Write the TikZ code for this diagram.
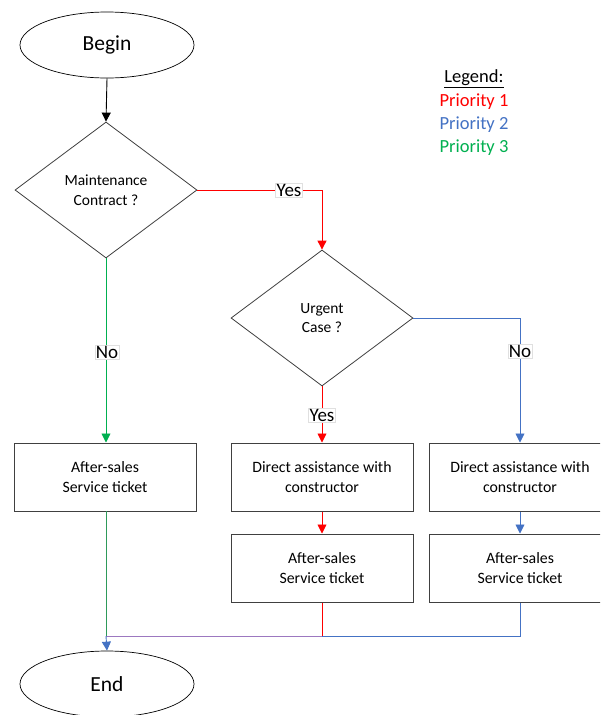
\documentclass[tikz,border=0pt]{standalone}
\usepackage{fontspec}
\setmainfont{Carlito}
\usetikzlibrary{shapes.geometric,arrows.meta}
\definecolor{pred}{HTML}{FF0000}
\definecolor{pblue}{HTML}{4472C4}
\definecolor{pgreen}{HTML}{00B050}
\definecolor{lgreen}{HTML}{2E9A5A}
\definecolor{mixp}{HTML}{9C78C0}
\definecolor{edge}{HTML}{404040}
\tikzset{
  term/.style={ellipse,draw=black,line width=0.7pt,minimum width=174pt,minimum height=66pt,inner sep=0pt,font=\fontsize{21.5}{24}\selectfont},
  decision/.style={diamond,draw=edge,line width=0.8pt,minimum width=182pt,minimum height=136pt,inner sep=0pt,aspect=1.34,align=center,font=\fontsize{15.5}{19.5}\selectfont},
  proc/.style={rectangle,draw=edge,line width=1pt,minimum width=182pt,minimum height=68pt,inner sep=0pt,align=center,font=\fontsize{15.8}{20}\selectfont},
  lab/.style={fill=white,draw=black!12,line width=0.4pt,inner sep=1pt,font=\fontsize{19}{21}\selectfont},
  conn/.style={line width=0.9pt,-{Triangle[width=9pt,length=9pt]}},
  segline/.style={line width=0.9pt},
  legend/.style={font=\fontsize{18.5}{20}\selectfont,inner sep=0pt}
}
\begin{document}
\begin{tikzpicture}[x=1pt,y=-1pt]
\useasboundingbox (0,0) rectangle (600,715);
\clip (0,0) rectangle (600,715);
\fill[white] (0,0) rectangle (600,715);

\node[term] (begin) at (107,45) {Begin};
\node[decision] (d1) at (106,190) {Maintenance\\Contract ?};
\node[decision] (d2) at (322,318) {Urgent\\Case ?};
\node[proc] (a1) at (105,477) {After-sales\\Service ticket};
\node[proc] (b1) at (322,477) {Direct assistance with\\constructor};
\node[proc] (c1) at (520,477) {Direct assistance with\\constructor};
\node[proc] (b2) at (322,568) {After-sales\\Service ticket};
\node[proc] (c2) at (520,568) {After-sales\\Service ticket};
\node[term] (end) at (107,684) {End};

\node[legend] (lg) at (474,79) {\underline{Legend:}};
\node[legend,text=pred] (l1) at (474,102) {Priority 1};
\node[legend,text=pblue] (l2) at (474,125) {Priority 2};
\node[legend,text=pgreen] (l3) at (474,148) {Priority 3};

\coordinate (j1) at (322,190);
\coordinate (j2) at (520,318);
\coordinate (jm) at (106,636);
\coordinate (gtop) at (106,511);

\draw[conn,black] (begin.south) -- (d1.north);
\draw[conn,pred] (d1.east) -- (j1) -- (d2.north);
\node[lab] (yes1) at (289,190) {Yes};
\draw[conn,pgreen] (d1.south) -- (d1.south |- a1.north);
\node[lab] (no1) at (107,352) {No};
\draw[conn,pred] (d2.south) -- (b1.north);
\node[lab] (yes2) at (322,415) {Yes};
\draw[conn,pblue] (d2.east) -- (j2) -- (c1.north);
\node[lab] (no2) at (520,351) {No};
\draw[conn,pred] (b1.south) -- (b2.north);
\draw[conn,pblue] (c1.south) -- (c2.north);

\draw[segline,pred] (b2.south) -- (b2.south |- jm);
\draw[segline,pblue] (c2.south) |- (b2.south |- jm);
\draw[segline,mixp] (b2.south |- jm) -- (jm);
\draw[segline,lgreen] (gtop) -- (jm);
\draw[conn,pblue] (jm) -- (end.north);
\end{tikzpicture}
\end{document}
